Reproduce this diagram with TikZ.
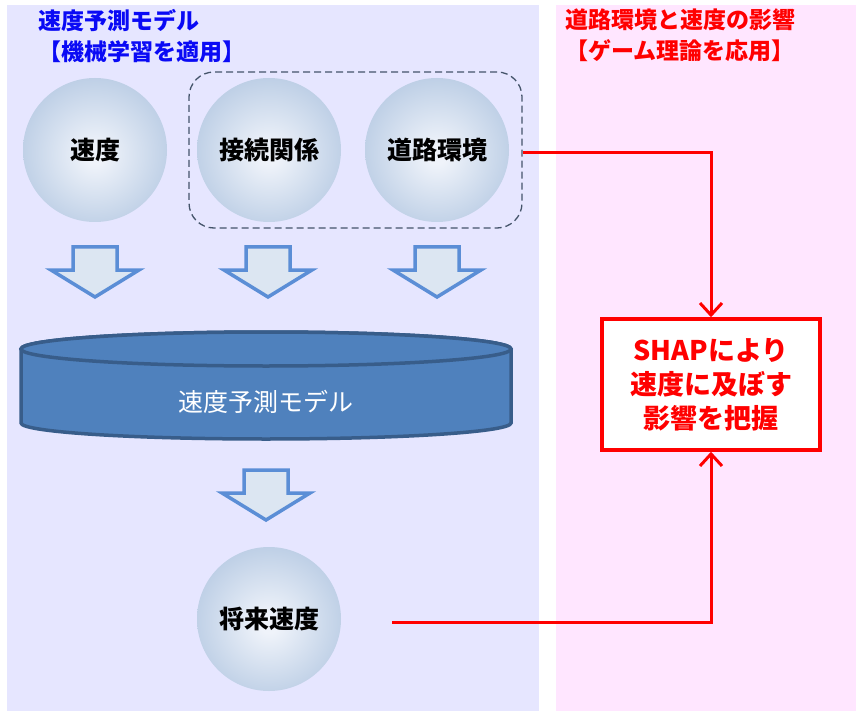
\documentclass[tikz,border=0pt]{standalone}
\usepackage{fontspec}
\setmainfont{Noto Sans CJK JP}
\usetikzlibrary{arrows.meta}
\definecolor{lav}{HTML}{E6E6FF}
\definecolor{pnk}{HTML}{FFE6FF}
\definecolor{ttlblue}{HTML}{0A0AF5}
\definecolor{ballin}{HTML}{EFF3FA}
\definecolor{ballout}{HTML}{ADC3DF}
\definecolor{slate}{HTML}{44546A}
\definecolor{arrfill}{HTML}{DCE6F2}
\definecolor{arrline}{HTML}{5B8ED6}
\definecolor{cylfill}{HTML}{4F81BD}
\definecolor{cylline}{HTML}{385D8A}
\pgfdeclareradialshading{ballshade}{\pgfpoint{0bp}{-2bp}}{color(0bp)=(ballin); color(3bp)=(ballin); color(34bp)=(ballout); color(50bp)=(ballout)}
\tikzset{
  ball/.style={circle, minimum size=144pt, inner sep=0pt, shading=ballshade, font=\bfseries\fontsize{25}{30}\selectfont, text=black},
  ttl/.style={anchor=north west, align=left, inner sep=0pt, font=\bfseries\fontsize{23}{31}\selectfont},
  arrsty/.style={fill=arrfill, draw=arrline, line width=3.5pt, line join=miter},
  redcon/.style={draw=red, line width=3pt, -{Straight Barb[length=12pt,width=22pt,line width=3pt]}},
  pics/barrow/.style={code={\draw[arrsty] (-22,0) -- (22,0) -- (22,23) -- (44,23) -- (0,50) -- (-44,23) -- (-22,23) -- cycle;}}
}
\begin{document}
\begin{tikzpicture}[x=1pt,y=-1pt]
\useasboundingbox (0,0) rectangle (856,711);
\fill[white] (0,0) rectangle (856,711);
\fill[lav] (7,5) rectangle (539,711);
\fill[pnk] (556,5) rectangle (856,711);
% titles
\node[ttl, text=ttlblue] (lt) at (38,9) {速度予測モデル\\【機械学習を適用】};
\node[ttl, text=red] (rt) at (565,9) {道路環境と速度の影響\\【ゲーム理論を応用】};
% group box
\node[draw=slate, dashed, dash pattern=on 7pt off 4pt, line width=1.3pt, rounded corners=25pt, minimum width=333pt, minimum height=156pt] (grp) at (355.5,150) {};
% input circles
\node[ball] (spd) at (95,150) {速度};
\node[ball] (con) at (269,150) {接続関係};
\node[ball] (road) at (437,150) {道路環境};
% block arrows
\pic at (95,247) {barrow};
\pic at (268,247) {barrow};
\pic at (437,247) {barrow};
% cylinder
\draw[fill=cylfill, draw=cylline, line width=3.5pt] (21,349) -- (21,423) arc[start angle=180, end angle=0, x radius=245, y radius=16] -- (511,349) arc[start angle=0, end angle=-180, x radius=245, y radius=17] -- cycle;
\draw[fill=cylfill, draw=cylline, line width=3.5pt] (266,349) ellipse[x radius=245, y radius=17];
\node[text=white, font=\fontsize{25}{30}\selectfont] (mdl) at (266,402) {速度予測モデル};
\pic at (266,470) {barrow};
% future speed
\node[ball] (fut) at (269,619) {将来速度};
% SHAP box
\node[draw=red, line width=3.5pt, fill=white, minimum width=218pt, minimum height=131pt, align=center, text=red, font=\bfseries\fontsize{27}{34}\selectfont] (shap) at (711,384.5) {SHAPにより\\速度に及ぼす\\影響を把握};
% connectors
\coordinate (fs) at (392,622);
\draw[redcon] ([yshift=-3pt]grp.east) -| (shap.north);
\draw[redcon] (fs) -| (shap.south);
\end{tikzpicture}
\end{document}
